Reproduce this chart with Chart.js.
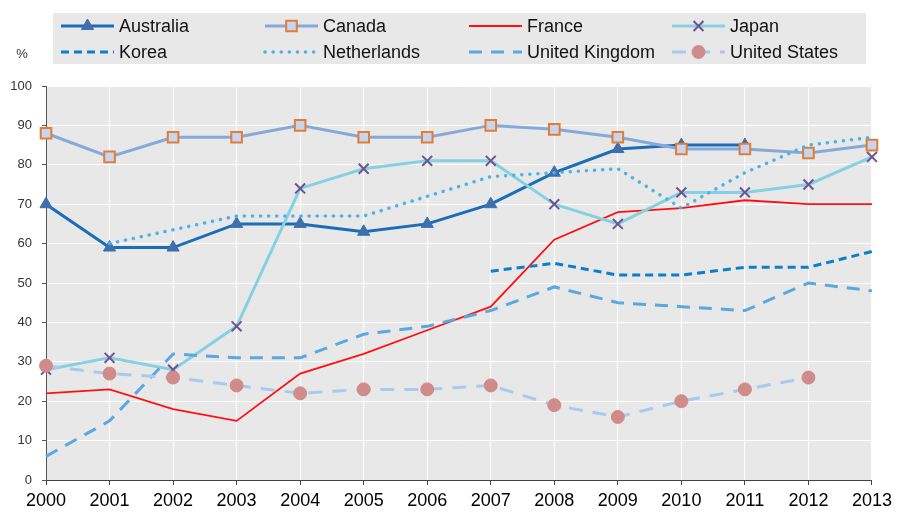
<!DOCTYPE html>
<html>
<head>
<meta charset="utf-8">
<script src="https://cdn.jsdelivr.net/npm/chart.js@4/dist/chart.umd.min.js"></script>
<style>
html, body { margin: 0; padding: 0; background: #fff; }
#wrap { width: 897px; height: 514px; position: relative; }
</style>
</head>
<body>
<div id="wrap"><canvas id="chart"></canvas></div>
<script>
const years = ['2000', '2001', '2002', '2003', '2004', '2005', '2006', '2007', '2008', '2009', '2010', '2011', '2012', '2013'];

const australia   = [70, 59, 59, 65, 65, 63, 65, 70, 78, 84, 85, 85, null, null];
const canada      = [88, 82, 87, 87, 90, 87, 87, 90, 89, 87, 84, 84, 83, 85];
const france      = [22, 23, 18, 15, 27, 32, 38, 44, 61, 68, 69, 71, 70, 70];
const japan       = [28, 31, 28, 39, 74, 79, 81, 81, 70, 65, 73, 73, 75, 82];
const korea       = [null, null, null, null, null, null, null, 53, 55, 52, 52, 54, 54, 58];
const netherlands = [null, 60, 63.5, 67, 67, 67, 72, 77, 78, 79, 69, 78, 85, 87];
const unitedKingdom = [6, 15, 32, 31, 31, 37, 39, 43, 49, 45, 44, 43, 50, 48];
const unitedStates  = [29, 27, 26, 24, 22, 23, 23, 24, 19, 16, 20, 23, 26, null];

const yMin = 0, yMax = 100, yStep = 10;

const FONT = '"Liberation Sans", Arial, sans-serif';

function series(label, data, style) {
    return Object.assign({
        label: label,
        data: data,
        fill: false,
        tension: 0,
        spanGaps: false,
        pointRadius: 0,
        pointHoverRadius: 0,
        borderWidth: 3
    }, style);
}

const datasets = [
    series('Australia', australia, {
        borderColor: '#1a6db6',
        pointStyle: 'triangle', pointRadius: 7,
        pointBackgroundColor: '#3f6fac', pointBorderColor: '#3f6fac', pointBorderWidth: 1
    }),
    series('Canada', canada, {
        borderColor: '#86a9da',
        pointStyle: 'rect', pointRadius: 7.5,
        pointBackgroundColor: '#c9d5ef', pointBorderColor: '#e07e36', pointBorderWidth: 2
    }),
    series('France', france, {
        borderColor: '#ff1010', borderWidth: 1.8
    }),
    series('Japan', japan, {
        borderColor: '#85d1e2',
        pointStyle: 'crossRot', pointRadius: 7,
        pointBackgroundColor: '#6c5391', pointBorderColor: '#6c5391', pointBorderWidth: 2
    }),
    series('Korea', korea, {
        borderColor: '#0b7fca', borderDash: [8, 5]
    }),
    series('Netherlands', netherlands, {
        borderColor: '#4db2e9', borderWidth: 3.5, borderDash: [0.1, 8], borderCapStyle: 'round'
    }),
    series('United Kingdom', unitedKingdom, {
        borderColor: '#5aa8e0', borderDash: [13, 9]
    }),
    series('United States', unitedStates, {
        borderColor: '#a9caee', borderDash: [14, 10],
        pointStyle: 'circle', pointRadius: 6.5,
        pointBackgroundColor: '#d08b8b', pointBorderColor: '#d08b8b', pointBorderWidth: 1
    })
];
// later series on top
datasets.forEach((ds, i) => { ds.order = datasets.length - i; });

const plotBackground = {
    id: 'plotBackground',
    beforeDraw(chart) {
        const a = chart.chartArea;
        const ctx = chart.ctx;
        ctx.save();
        ctx.fillStyle = '#e8e8e8';
        ctx.fillRect(a.left, a.top, a.right - a.left, a.bottom - a.top);
        ctx.restore();
    }
};

const boxLegend = {
    id: 'boxLegend',
    afterDraw(chart) {
        const ctx = chart.ctx;
        ctx.save();
        ctx.fillStyle = '#e8e8e8';
        ctx.fillRect(53, 13, 813, 51);
        const colX = [61, 265, 469, 672];
        const rowY = [26, 52];
        chart.data.datasets.forEach((ds, i) => {
            const x = colX[i % 4];
            const y = rowY[Math.floor(i / 4)];
            ctx.beginPath();
            ctx.setLineDash(ds.borderDash || []);
            ctx.lineCap = ds.borderCapStyle || 'butt';
            ctx.strokeStyle = ds.borderColor;
            ctx.lineWidth = ds.borderWidth;
            ctx.moveTo(x, y);
            ctx.lineTo(x + 53, y);
            ctx.stroke();
            ctx.setLineDash([]);
            ctx.lineCap = 'butt';
            if (ds.pointRadius > 0) {
                ctx.fillStyle = ds.pointBackgroundColor;
                ctx.strokeStyle = ds.pointBorderColor;
                ctx.lineWidth = ds.pointBorderWidth;
                Chart.helpers.drawPoint(ctx, {
                    pointStyle: ds.pointStyle,
                    radius: ds.pointRadius,
                    borderWidth: ds.pointBorderWidth,
                    rotation: 0
                }, x + 26.5, y);
            }
            ctx.fillStyle = '#111';
            ctx.font = '18px ' + FONT;
            ctx.textBaseline = 'middle';
            ctx.textAlign = 'left';
            ctx.fillText(ds.label, x + 58, y + 1);
        });
        ctx.fillStyle = '#333';
        ctx.font = '13px ' + FONT;
        ctx.textAlign = 'center';
        ctx.fillText('%', 22, 54);
        ctx.restore();
    }
};

new Chart(document.getElementById('chart').getContext('2d'), {
    type: 'line',
    data: { labels: years, datasets: datasets },
    plugins: [plotBackground, boxLegend],
    options: {
        responsive: true,
        maintainAspectRatio: false,
        animation: false,
        layout: { padding: { top: 86, right: 21, left: 0, bottom: 0 } },
        plugins: {
            legend: { display: false },
            tooltip: { enabled: false }
        },
        scales: {
            x: {
                offset: false,
                grid: { color: '#ffffff', lineWidth: 1, tickColor: '#444', tickLength: 5 },
                border: { color: '#444', width: 1 },
                ticks: {
                    color: '#000',
                    font: { family: FONT, size: 18 },
                    padding: 5,
                    maxRotation: 0,
                    autoSkip: false
                },
                afterFit(scale) { scale.height = 34; }
            },
            y: {
                min: yMin,
                max: yMax,
                grid: { color: '#ffffff', lineWidth: 1, tickColor: '#555', tickLength: 4 },
                border: { color: '#555', width: 1 },
                ticks: {
                    stepSize: yStep,
                    color: '#333',
                    font: { family: FONT, size: 13 },
                    padding: 10
                },
                afterFit(scale) { scale.width = 46; }
            }
        }
    }
});
</script>
</body>
</html>
